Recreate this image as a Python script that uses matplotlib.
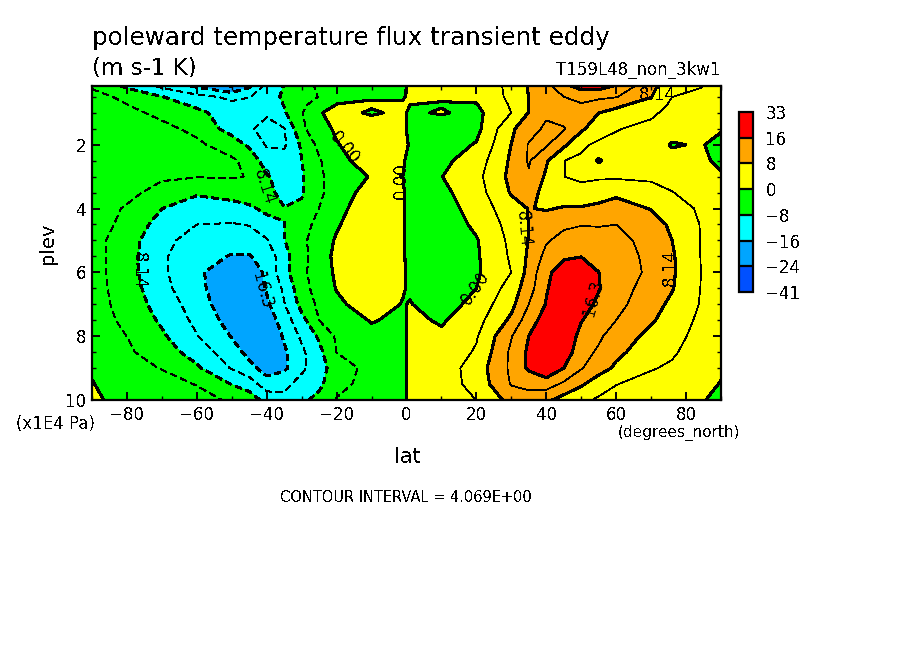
import numpy as np
import matplotlib
matplotlib.use('Agg')
import matplotlib.pyplot as plt

W, H = 904, 654

TITLE = 'poleward temperature flux transient eddy'
UNITS = '(m s-1 K)'
DATASET = 'T159L48_non_3kw1'
INTERVAL = 'CONTOUR INTERVAL = 4.069E+00'

plev = [0.16, 0.5, 0.75, 1, 1.5, 2, 2.5, 3, 3.5, 4, 4.5, 5, 5.5, 6, 6.5, 7, 7.5, 8, 8.5, 9, 9.5, 10]
lat = [-90, -80, -70, -60, -50, -45, -40, -35, -30, -25, -20, -10, -1, 1, 10, 20, 30, 35, 40, 45, 50, 55, 60, 70, 76, 84, 90]

# one list per latitude, top of the plot first
flux_s90 = [-4.5, -3, -2.8, -2.5, -2, -2, -2, -2, -2, -2, -2.5, -2.5, -2.5, -2.5, -2.5, -2.5, -2.5, -2, -1.5, -0.5, 0.2, 1.5]
flux_s80 = [-9, -4.8, -4, -3.3, -2.5, -2, -2, -2, -3, -4.5, -5, -6.4, -6.5, -6.5, -6, -5.5, -4.8, -4.1, -3.5, -3, -2.5, -3]
flux_s70 = [-13, -8, -6, -4.8, -3.3, -2.8, -2.5, -3.5, -5.5, -8.1, -10, -11, -11.6, -11.5, -11, -10, -8.8, -7.5, -6, -4.2, -3, -2]
flux_s60 = [-17, -11, -9, -7, -4.8, -3.5, -3, -3.9, -7.7, -10, -12.2, -14, -15, -15.5, -15, -14, -13.2, -12, -10, -7.5, -4.2, -3]
flux_s50 = [-21, -13, -11.5, -10.5, -10, -5.6, -3.6, -3.8, -6.8, -9.5, -12.5, -15, -16.5, -19, -19.8, -19.5, -18, -16.5, -14.5, -12.5, -8.3, -4.5]
flux_s45 = [-17, -12.4, -10.5, -10, -11.5, -9, -5, -4.2, -5.5, -9, -12, -14.5, -16.5, -18.7, -19.8, -19.8, -19, -18.5, -17.5, -15, -10, -6]
flux_s40 = [-11, -10, -10.5, -11.5, -14, -12.6, -10.5, -7.6, -6, -7, -10, -12.5, -15, -15.5, -15.9, -17, -19, -19.8, -19.8, -18, -14.5, -9.5]
flux_s35 = [-8, -7.5, -8, -8.6, -12.4, -12.8, -10.5, -10.5, -10.5, -7.9, -8.2, -8.3, -9.5, -9.5, -11.5, -12.4, -14.2, -15.8, -16.9, -17, -13.5, -11]
flux_s30 = [-5.5, -6, -5, -4.3, -5, -7.5, -8.2, -8.6, -8.5, -7.5, -5.5, -5, -5.3, -4.9, -5.5, -6.8, -9.5, -11.5, -13, -13.2, -10.5, -9]
flux_s25 = [-3.5, -3.9, -2, -0.2, -1.3, -3, -4.5, -5, -5, -4, -3, -2, -2, -2.3, -2.5, -3.2, -4.07, -7.5, -9.3, -9.5, -9, -7]
flux_s20 = [-2, -0.8, 0.1, 0.8, 0.5, -0.2, -1, -1.7, -1.8, -1.2, -0.4, 0.4, 1, 0.7, 0.2, -0.8, -2.5, -3.5, -4, -6.5, -5.5, -3.8]
flux_s10 = [-1, -0.2, 0.3, -0.3, 1.5, 2, 1.5, 0.2, 1.5, 2.5, 3, 3.2, 3.5, 3.5, 3.2, 2, 0.3, -1.2, -2, -2.5, -2.3, -2]
flux_s01 = [-1, -0.2, 0.3, 0.5, 0.5, 0.3, 0.2, -0.02, 0.2, 0.2, 0.3, 0.3, 0.3, 0.4, 0.3, -0.2, -1, -1.5, -1.5, -1.5, -1.5, -1.5]
flux_n01 = [1, 0.5, 0, -0.5, -0.6, -0.1, -0.6, -0.8, -0.8, -0.8, -0.8, -0.8, -0.8, -0.8, -0.5, 0.2, 1, 1.2, 1.2, 1.2, 1.2, 1.2]
flux_n10 = [1, 0.3, -0.2, 0.3, -2, -2, -1, -0.1, -1, -1.8, -2.5, -3, -3.2, -3.3, -3, -2.2, -0.5, 0.8, 1.5, 1.8, 2, 2]
flux_n20 = [1.5, 0.7, -0.2, -1, -1.2, 0.3, 2, 2.9, 2.3, 1.6, 0.8, -0.3, -0.5, -0.6, 0, 1.5, 2.6, 3.7, 4.5, 6, 5.5, 4.1]
flux_n30 = [5, 5, 4.5, 4.1, 7.5, 8.2, 8.8, 9.2, 8.5, 6.5, 5.5, 5, 4.6, 4.1, 5.8, 7, 9, 12, 13, 13, 12.5, 9.5]
flux_n35 = [8.5, 8.2, 8.14, 8.3, 10.5, 12.5, 12.6, 11.8, 9.5, 8.3, 8.2, 8.3, 8.8, 9.5, 10.5, 12.2, 14.5, 16.3, 17, 17, 13, 11]
flux_n40 = [11, 10.5, 11, 11.5, 13, 12.7, 8.6, 7.5, 7, 7.8, 10.5, 11.8, 13.5, 15.5, 16, 16.5, 18, 19.5, 19.8, 19.8, 14, 9]
flux_n45 = [15, 12.2, 11, 10.5, 12.5, 9, 4.1, 4.1, 5.5, 8.5, 11.5, 13.5, 15.8, 18, 18.5, 19.5, 19.5, 19.5, 18.5, 16.3, 11.5, 6.5]
flux_n50 = [18, 13, 12, 11, 8.9, 4.6, 3.6, 3.6, 4.9, 8.6, 12, 14.5, 16.2, 18.5, 19, 18, 16.5, 15, 14, 12.5, 8.7, 5]
flux_n55 = [18, 13, 10.5, 8.2, 5.5, 3.5, -0.5, 3.5, 6.5, 9, 11.9, 14, 15.5, 16.3, 16.5, 15.5, 14.3, 13, 11.5, 9.8, 6, 3.5]
flux_n60 = [16, 12.4, 9, 7, 4.3, 3, 2.5, 3.5, 7.5, 9.5, 12.2, 13.5, 14.5, 15, 14, 13.4, 12.2, 10, 9, 7.5, 4.2, 2.5]
flux_n70 = [9, 8.3, 6.2, 4.8, 3, 1.8, 1.8, 3.5, 5.3, 8, 9.7, 10.8, 11, 11.2, 10.5, 9.7, 8.5, 7.2, 6.1, 4.4, 2.5, 1]
flux_n76 = [6, 4.1, 3.4, 2.8, 1.5, -0.3, 1.2, 2.7, 4.2, 6.2, 7.5, 8.14, 8.6, 8.7, 8.4, 7.3, 6.8, 5.8, 4.7, 3.4, 1.8, 0.6]
flux_n84 = [4.3, 3.2, 2.5, 1.8, 1, 0.3, 0.6, 1.2, 2.4, 3.5, 4, 4.1, 4.1, 4.2, 4.1, 3.9, 3.2, 2.5, 1.8, 1.2, 0.7, 0.3]
flux_n90 = [3, 2, 1.5, 1, 0.3, -1, -0.6, 0.3, 1, 1.5, 1.5, 1.5, 1.5, 1.5, 1.5, 1.4, 1.2, 1, 0.8, 0.3, -0.1, -0.8]

fill_levels = [-40.69, -24.41, -16.28, -8.14, 0, 8.14, 16.28, 32.55]
fill_colors = ['#0050ff', '#00a5ff', '#00ffff', '#00ff00', '#ffff00', '#ffa500', '#ff0000']
fill_labels = ['\u221241', '\u221224', '\u221216', '\u22128', '0', '8', '16', '33']
line_levels = [-20.35, -16.28, -12.21, -8.14, -4.07, 0, 4.07, 8.14, 12.21, 16.28, 20.35]

xtick_values = [-80, -60, -40, -20, 0, 20, 40, 60, 80]
xtick_labels = ['\u221280', '\u221260', '\u221240', '\u221220', '0', '20', '40', '60', '80']
ytick_values = [2, 4, 6, 8, 10]

contour_labels = [
    (-17.7, 2.1, '0.00', -50),
    (-1.7, 3.13, '0.00', 90),
    (-40.6, 3.32, '8.14', -72),
    (-76.6, 5.95, '8.14', -90),
    (-41.4, 6.58, '16.3', -75),
    (33.4, 4.64, '8.14', -85),
    (53.4, 6.8, '16.3', 75),
    (75.4, 5.86, '8.14', 90),
    (19.7, 6.49, '0.00', 55),
    (71.7, 0.44, '8.14', 0),
]


def px_text(fig, x, y, s, size, ha='left', va='center', rotation=0):
    fig.text(x / W, 1 - y / H, s, fontsize=size, ha=ha, va=va, rotation=rotation)


def main():
    plt.rcParams['text.antialiased'] = False
    plt.rcParams['font.family'] = 'DejaVu Sans'
    plt.rcParams['lines.scale_dashes'] = False

    field = np.array([
        flux_s90, flux_s80, flux_s70, flux_s60, flux_s50, flux_s45, flux_s40,
        flux_s35, flux_s30, flux_s25, flux_s20, flux_s10, flux_s01, flux_n01,
        flux_n10, flux_n20, flux_n30, flux_n35, flux_n40, flux_n45, flux_n50,
        flux_n55, flux_n60, flux_n70, flux_n76, flux_n84, flux_n90,
    ]).T

    fig = plt.figure(figsize=(W / 100, H / 100), dpi=100)
    ax = fig.add_axes([92 / W, 1 - 400 / H, 629 / W, 314 / H])

    cf = ax.contourf(lat, plev, field, levels=fill_levels, colors=fill_colors, antialiased=False)

    widths = [1.5 if abs(round(lv / 4.069)) % 2 == 0 else 0.5 for lv in line_levels]
    styles = [(0, (4.5, 3)) if lv < 0 else 'solid' for lv in line_levels]
    ax.contour(lat, plev, field, levels=line_levels, colors='k', linewidths=widths,
               linestyles=styles, antialiased=False)

    for lon, p, s, rot in contour_labels:
        ax.text(lon, p, s, fontsize=12, ha='center', va='center', rotation=rot,
                rotation_mode='anchor')

    ax.set_xlim(-90, 90)
    ax.set_ylim(10, 0.16)
    ax.set_xticks(xtick_values, xtick_labels, fontsize=12)
    ax.set_xticks(np.arange(-90, 91, 10), minor=True)
    ax.set_yticks(ytick_values, [str(v) for v in ytick_values], fontsize=12)
    ax.set_yticks(np.arange(0.5, 10, 0.5), minor=True)
    ax.tick_params(which='major', direction='in', length=6, width=1.4, top=True, right=True, pad=4)
    ax.tick_params(which='minor', direction='in', length=3, width=1, top=True, right=True)
    for spine in ax.spines.values():
        spine.set_linewidth(1.6)

    cax = fig.add_axes([739 / W, 1 - 292 / H, 14 / W, 180 / H])
    cbar = fig.colorbar(cf, cax=cax, spacing='uniform', drawedges=True)
    cbar.set_ticks(fill_levels, labels=fill_labels, fontsize=12)
    cbar.ax.tick_params(length=0, pad=9)
    cbar.outline.set_linewidth(1.6)
    cbar.dividers.set_linewidth(1.6)
    cbar.dividers.set_color('k')

    px_text(fig, 92, 38, TITLE, 17.7)
    px_text(fig, 92, 68, UNITS, 16.5)
    px_text(fig, 721, 70, DATASET, 12, ha='right')
    px_text(fig, 48, 243, 'plev', 14, ha='center', rotation=90)
    px_text(fig, 16, 424, '(x1E4 Pa)', 12)
    px_text(fig, 618, 433, '(degrees_north)', 11)
    px_text(fig, 407, 457, 'lat', 15, ha='center')
    px_text(fig, 406, 498, INTERVAL, 10.5, ha='center')

    fig.savefig('out.png', dpi=100)


if __name__ == '__main__':
    main()
